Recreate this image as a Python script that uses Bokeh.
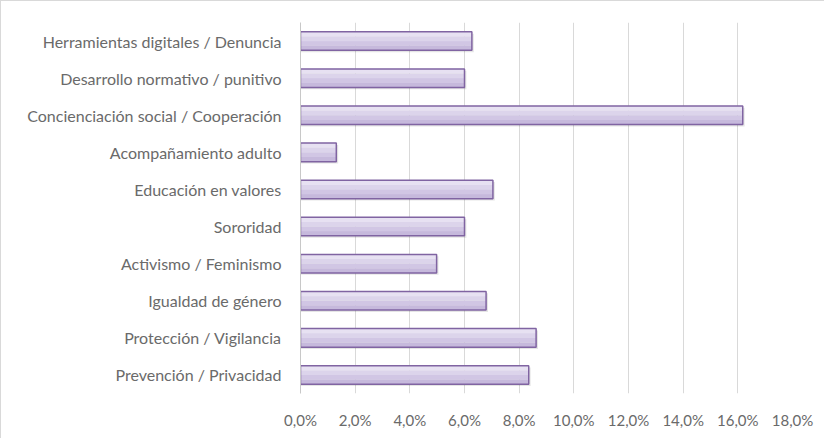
from bokeh.plotting import figure
from bokeh.models import ColumnDataSource, FactorRange, Range1d, CustomJSTickFormatter, FixedTicker
from bokeh.transform import dodge
from bokeh.embed import file_html
from bokeh.resources import INLINE

categories = [
    "Herramientas digitales / Denuncia",
    "Desarrollo normativo / punitivo",
    "Concienciación social / Cooperación",
    "Acompañamiento adulto",
    "Educación en valores",
    "Sororidad",
    "Activismo / Feminismo",
    "Igualdad de género",
    "Protección / Vigilancia",
    "Prevención / Privacidad",
]
values = [6.27, 6.0, 16.18, 1.31, 7.04, 6.0, 4.98, 6.79, 8.62, 8.35]
x_ticks = [0, 2, 4, 6, 8, 10, 12, 14, 16, 18]

src = ColumnDataSource(dict(cat=categories, val=values))

p = figure(
    width=824, height=438,
    y_range=FactorRange(factors=list(reversed(categories))),
    x_range=Range1d(0, 18),
    output_backend="svg", toolbar_location=None,
    min_border_left=299, min_border_top=21, min_border_right=33, min_border_bottom=46,
)
p.styles = {"border-left": "1px solid #d9d9d9", "border-top": "1px solid #d9d9d9"}
p.outline_line_color = None
p.background_fill_color = "white"
p.border_fill_color = "white"

# grid
p.xgrid.grid_line_color = "#d9d9d9"
p.xgrid.grid_line_width = 1
p.ygrid.grid_line_color = None

BH = 0.5
# shadow
p.hbar(y=dodge("cat", -0.05, range=p.y_range), right=dodge("val", 0.07, range=p.x_range), left=0,
       height=BH, source=src, fill_color="#000000", fill_alpha=0.10, line_color=None)
# gradient strips
strip_cols = ["#c6b9dc", "#d1c6e4", "#dcd4eb", "#e7e1f2"]
strip_offs = [-0.1875, -0.0625, 0.0625, 0.1875]
for c, o in zip(strip_cols, strip_offs):
    p.hbar(y=dodge("cat", o, range=p.y_range), right="val", left=0, height=BH / 4 + 0.005,
           source=src, fill_color=c, line_color=None)
# outline
p.hbar(y="cat", right="val", left=0, height=BH, source=src,
       fill_color=None, line_color="#8064a2", line_width=1.5)

# axes
p.xaxis.ticker = FixedTicker(ticks=x_ticks)
p.xaxis.formatter = CustomJSTickFormatter(code="return tick.toFixed(1).replace('.', ',') + '%';")
p.xaxis.axis_line_color = None
p.xaxis.major_tick_line_color = None
p.xaxis.minor_tick_line_color = None
p.xaxis.major_tick_out = 0
p.xaxis.major_tick_in = 0
p.xaxis.major_label_standoff = 17
p.xaxis.major_label_text_font = "Lato"
p.xaxis.major_label_text_font_size = "15px"
p.xaxis.major_label_text_color = "#6a6a6a"

p.yaxis.axis_line_color = "#c8c8c8"
p.yaxis.major_tick_line_color = None
p.yaxis.minor_tick_line_color = None
p.yaxis.major_tick_out = 0
p.yaxis.major_tick_in = 0
p.yaxis.major_label_standoff = 19
p.yaxis.major_label_text_font = "Lato"
p.yaxis.major_label_text_font_size = "16px"
p.yaxis.major_label_text_color = "#6a6a6a"

open("out.html", "w").write(file_html(p, INLINE))
